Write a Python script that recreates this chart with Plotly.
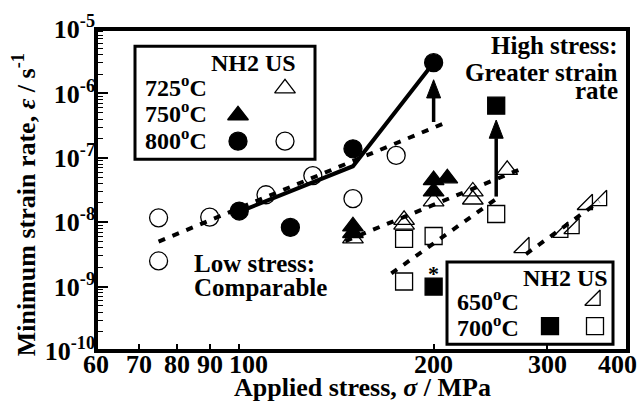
import numpy as np
import plotly.graph_objects as go

# ---------------- data (stress in MPa, minimum strain rate in 1/s) ----------------
stress_800_nh2 = [100, 120, 150, 200]
rate_800_nh2 = [1.49e-8, 8.3e-9, 1.38e-7, 3.0e-6]

stress_800_us = [75, 75, 90, 110, 130, 150, 175]
rate_800_us = [1.17e-8, 2.5e-9, 1.2e-8, 2.67e-8, 5.3e-8, 2.32e-8, 1.09e-7]

stress_750_nh2 = [150, 150, 200, 200, 210]
rate_750_nh2 = [8.6e-9, 6.8e-9, 4.5e-8, 3.0e-8, 4.8e-8]

stress_725_us = [150, 180, 180, 200, 230, 230, 260]
rate_725_us = [5.6e-9, 1.09e-8, 9.2e-9, 2.1e-8, 3.0e-8, 2.25e-8, 6.5e-8]

stress_700_nh2 = [200, 250]
rate_700_nh2 = [1.0e-9, 6.45e-7]

stress_700_us = [180, 180, 200, 250]
rate_700_us = [5.5e-9, 1.2e-9, 6.1e-9, 1.34e-8]

stress_650_us = [276, 317, 330, 346, 364]
rate_650_us = [4.05e-9, 7.0e-9, 8.0e-9, 1.89e-8, 2.17e-8]

# fitted trend lines
fit_800_nh2_x = [100, 150, 200]
fit_800_nh2_y = [1.45e-8, 7.4e-8, 3.0e-6]
fit_800_us_x = [75, 210]
fit_800_us_y = [5.0e-9, 3.6e-7]
fit_725_us_x = [146, 271]
fit_725_us_y = [5.1e-9, 6.5e-8]
fit_700_us_x = [172, 253]
fit_700_us_y = [1.6e-9, 2.5e-8]
fit_650_us_x = [278, 361]
fit_650_us_y = [3.2e-9, 2.1e-8]

# arrows (stress, tail rate, tip rate)
arrow_x = [200, 250]
arrow_tail = [3.6e-7, 2.5e-8]
arrow_tip = [1.63e-6, 3.86e-7]

x_ticks = [60, 70, 80, 90, 100, 200, 300, 400]
x_label_shift = [0, 0, 0, 0, 9, 0, 0, -11]
y_ticks = [1e-10, 1e-9, 1e-8, 1e-7, 1e-6, 1e-5]
y_ticktext = ["10<sup>-10</sup>", "10<sup>-9</sup>", "10<sup>-8</sup>",
              "10<sup>-7</sup>", "10<sup>-6</sup>", "10<sup>-5</sup>"]

# ---------------- geometry ----------------
W, H = 639, 405
ML, MR, MT, MB = 96, 11, 15, 54
PW, PH = W - ML - MR, H - MT - MB
XR = [np.log10(60) - 1e-6, np.log10(400) + 1e-6]
YR = [-10, -5]
dec_per_px_x = (XR[1] - XR[0]) / PW
dec_per_px_y = (YR[1] - YR[0]) / PH

FONT = "Liberation Serif, Times New Roman, DejaVu Serif, serif"
fig = go.Figure()

def line(x, y, dash=None):
    fig.add_trace(go.Scatter(x=x, y=y, mode="lines", showlegend=False, hoverinfo="skip",
                             line=dict(color="black", width=4,
                                       dash=dash if dash else "solid")))

DASH = "7px,8px"
line(fit_800_us_x, fit_800_us_y, DASH)
line(fit_725_us_x, fit_725_us_y, DASH)
line(fit_700_us_x, fit_700_us_y, DASH)
line(fit_650_us_x, fit_650_us_y, DASH)
line(fit_800_nh2_x, fit_800_nh2_y)

# arrows: shaft + filled head
head_len, head_hw = 19, 7
for ax_, yt, yh in zip(arrow_x, arrow_tail, arrow_tip):
    base = yh / 10 ** (head_len * dec_per_px_y)
    fig.add_trace(go.Scatter(x=[ax_, ax_], y=[yt, base], mode="lines", showlegend=False,
                             hoverinfo="skip", line=dict(color="black", width=3.5)))
    xl = ax_ / 10 ** (head_hw * dec_per_px_x)
    xr = ax_ * 10 ** (head_hw * dec_per_px_x)
    fig.add_trace(go.Scatter(x=[xl, xr, ax_, xl], y=[base, base, yh, base], mode="lines",
                             fill="toself", fillcolor="black", showlegend=False,
                             hoverinfo="skip", line=dict(color="black", width=1)))

def pts(x, y, sym, size, xaxis="x", yaxis="y", lw=1.3):
    fig.add_trace(go.Scatter(x=x, y=y, mode="markers", showlegend=False, hoverinfo="skip",
                             xaxis=xaxis, yaxis=yaxis,
                             marker=dict(symbol=sym, size=size, color="black",
                                         line=dict(color="black", width=lw))))

pts(stress_800_us, rate_800_us, "circle-open", 18)
pts(stress_725_us, rate_725_us, "triangle-up-open", 18)
pts(stress_700_us, rate_700_us, "square-open", 17)
pts(stress_650_us, rate_650_us, "triangle-se-open", 17)
pts(stress_800_nh2, rate_800_nh2, "circle", 18)
pts(stress_750_nh2, rate_750_nh2, "triangle-up", 18)
pts(stress_700_nh2, rate_700_nh2, "square", 17)

# ---------------- legend boxes (overlay axes in plot fractions) ----------------
def fx(px):
    return (px - ML) / PW

def fy(py):
    return (MT + PH - py) / PH

leg_sym = ["triangle-up-open", "triangle-up", "circle", "circle-open",
           "triangle-se-open", "square", "square-open"]
leg_px = [285, 238, 238, 285, 595, 550, 595]
leg_py = [77, 105, 132, 132, 298, 325, 325]
leg_size = [18, 18, 18, 18, 17, 17, 17]
for s, px, py, sz in zip(leg_sym, leg_px, leg_py, leg_size):
    pts([fx(px)], [fy(py)], s, sz, xaxis="x2", yaxis="y2")

shapes = [
    dict(type="rect", xref="paper", yref="paper", x0=fx(135), x1=fx(315), y0=fy(151), y1=fy(33),
         line=dict(color="black", width=3), fillcolor="white", layer="below"),
    dict(type="rect", xref="paper", yref="paper", x0=fx(447), x1=fx(613), y0=fy(344), y1=fy(258),
         line=dict(color="black", width=3), fillcolor="white", layer="below"),
    dict(type="rect", xref="paper", yref="paper", x0=0, x1=1, y0=0, y1=1,
         line=dict(color="black", width=4), layer="above"),
]

annos = []
def txt(text, px, py, size, xanchor="left", angle=0):
    annos.append(dict(text="<b>" + text + "</b>", x=fx(px), y=fy(py), xref="paper", yref="paper",
                      xanchor=xanchor, yanchor="middle", showarrow=False, textangle=angle,
                      font=dict(family=FONT, size=size, color="black")))

LS = 24
txt("NH2 US", 298, 50, LS, "right")
txt("725<sup>o</sup>C", 143, 74, LS)
txt("750<sup>o</sup>C", 143, 102, LS)
txt("800<sup>o</sup>C", 143, 130, LS)
txt("NH2 US", 610, 275, LS, "right")
txt("650<sup>o</sup>C", 455, 298, LS)
txt("700<sup>o</sup>C", 455, 325, LS)

AS = 25
txt("High stress:", 620, 32, AS, "right")
txt("Greater strain", 620, 60, AS, "right")
txt("rate", 620, 79, AS, "right")
txt("Low stress:", 192, 260, AS)
txt("Comparable", 192, 285, AS)
txt("*", 433, 270, 22, "center")

txt("Applied stress, <i>σ</i> / MPa", 362, 389, 26, "center")
txt("Minimum strain rate, <i>ε</i> / s<sup>-1</sup>", 24, 199, 26, "center", angle=-90)

# x tick labels as annotations placed on the log axis
for v, sh in zip(x_ticks, x_label_shift):
    annos.append(dict(text="<b>%d</b>" % v, x=np.log10(v), y=fy(365), xref="x", yref="paper",
                      xanchor="center", yanchor="middle", xshift=sh, showarrow=False,
                      font=dict(family=FONT, size=26, color="black")))

tickfont = dict(family=FONT, size=26, color="black")
fig.update_layout(
    width=W, height=H, margin=dict(l=ML, r=MR, t=MT, b=MB),
    paper_bgcolor="white", plot_bgcolor="white",
    font=dict(family=FONT, size=26, color="black"),
    shapes=shapes, annotations=annos, showlegend=False,
    xaxis=dict(type="log", range=XR, tickmode="array", tickvals=x_ticks,
               showticklabels=False,
               ticks="inside", ticklen=7, tickwidth=1.5,
               tickcolor="black", showgrid=False, zeroline=False, showline=False),
    yaxis=dict(type="log", range=YR, tickmode="array", tickvals=y_ticks,
               ticktext=["<b>" + t + "</b>" for t in y_ticktext], tickangle=0,
               ticks="inside", ticklen=12, tickwidth=1.5, tickcolor="black",
               showgrid=False, zeroline=False, showline=False,
               minor=dict(ticks="inside", ticklen=7, tickwidth=1, tickcolor="black",
                          dtick="D1", showgrid=False),
               tickfont=tickfont),
    xaxis2=dict(overlaying="x", range=[0, 1], visible=False, anchor="y2"),
    yaxis2=dict(overlaying="y", range=[0, 1], visible=False, anchor="x2"),
)

fig.write_html("out.html")
